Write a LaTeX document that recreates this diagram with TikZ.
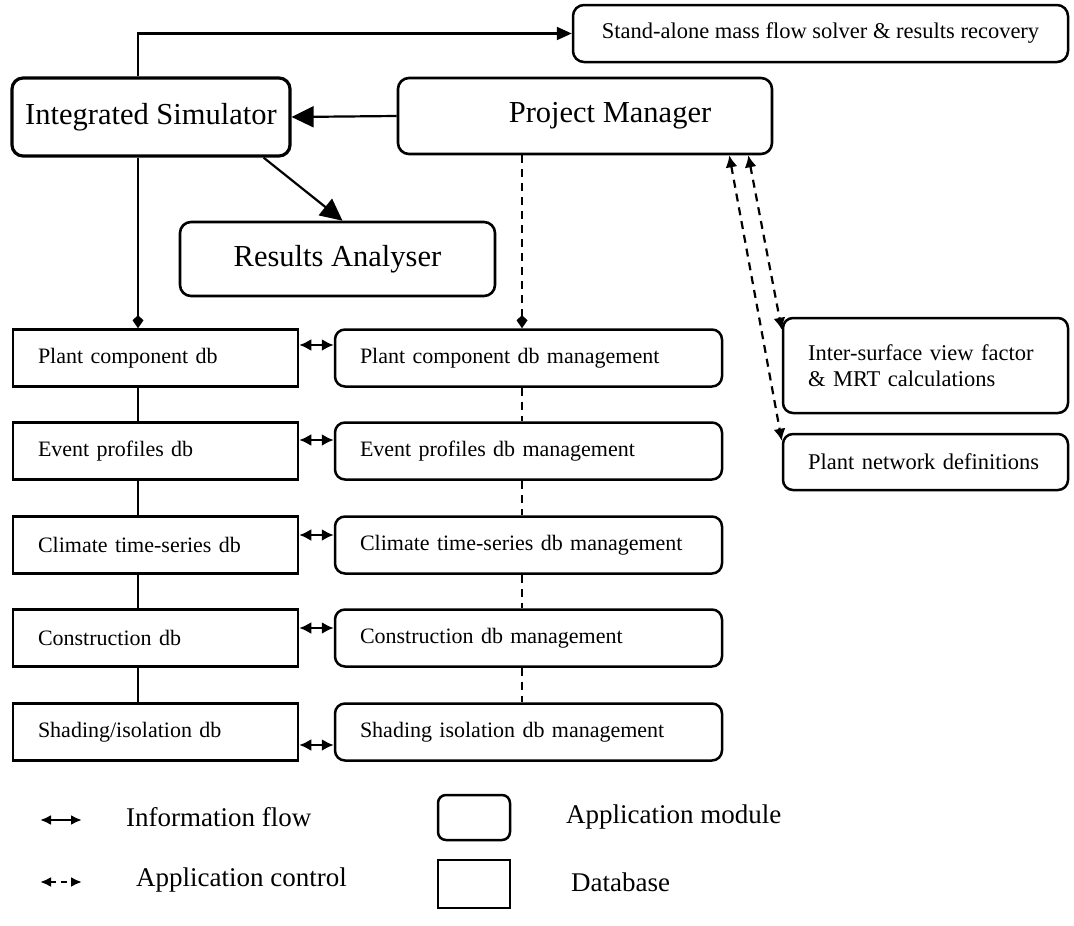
\documentclass[tikz,border=0pt]{standalone}
\usepackage{fontspec}
\setmainfont{Liberation Serif}
\usetikzlibrary{arrows.meta,calc}
\begin{document}
\begin{tikzpicture}[x=1pt,y=-1pt,
  line width=2.2pt,
  modbox/.style={draw,rounded corners=11pt,line width=2.5pt,inner sep=0pt,anchor=center},
  bigmod/.style={modbox,line width=3.2pt,font=\fontsize{30.5}{34}\selectfont},
  dbbox/.style={draw,line width=2.5pt,inner xsep=25pt,inner ysep=0pt,minimum height=57pt,align=left,font=\fontsize{22}{25}\selectfont},
  mgbox/.style={dbbox,rounded corners=10pt},
  lbl/.style={font=\fontsize{27}{31}\selectfont,anchor=west,inner sep=0pt},
  bighead/.style={-{Triangle[length=22pt,width=21pt]}},
  dbl/.style={{Latex[length=12pt,width=12pt]}-{Latex[length=12pt,width=12pt]}},
  ctl/.style={dash pattern=on 8pt off 6pt},
  kite/.style={-{Kite[length=13pt,width=11pt,inset=5pt]}}
]
\useasboundingbox (0,0) rectangle (1074,926);

% top modules
\node[modbox,minimum width=495pt,minimum height=57pt,font=\fontsize{22.5}{26}\selectfont] (sa) at (820.5,33.5) {Stand-alone mass flow solver \& results recovery};
\node[bigmod,minimum width=278pt,minimum height=78pt] (is) at (151,117) {Integrated Simulator};
\node[bigmod,line width=2.6pt,minimum width=374pt,minimum height=76pt] (pm) at (585,116) {\hspace*{50pt}Project Manager};
\node[bigmod,line width=2.6pt,minimum width=315pt,minimum height=74pt] (ra) at (337.5,259) {Results Analyser};

% database column
\node[dbbox,text width=235pt] (pc) at (155.5,358) {Plant component db};
\node[dbbox,text width=235pt] (ep) at (155.5,451) {Event profiles db};
\node[dbbox,text width=235pt] (cl) at (155.5,545) {Climate time-series db};
\node[dbbox,text width=235pt] (co) at (155.5,638) {Construction db};
\node[dbbox,text width=235pt] (sh) at (155.5,732) {Shading/isolation db};

% management column
\node[mgbox,text width=337pt] (pcm) at (528.5,358) {Plant component db management};
\node[mgbox,text width=337pt] (epm) at (528.5,451) {Event profiles db management};
\node[mgbox,text width=337pt] (clm) at (528.5,545) {Climate time-series db management};
\node[mgbox,text width=337pt] (com) at (528.5,638) {Construction db management};
\node[mgbox,text width=337pt] (shm) at (528.5,732) {Shading isolation db management};

% right modules
\node[mgbox,text width=235pt,minimum height=95pt,font=\fontsize{22.5}{26}\selectfont] (vf) at (925.5,365.5) {Inter-surface view factor\\\& MRT calculations};
\node[mgbox,text width=235pt,minimum height=56pt,font=\fontsize{22.5}{26}\selectfont] (pn) at (925.5,462) {Plant network definitions};

% helper coordinates for vertical runs
\coordinate (vx) at (138,0);
\coordinate (mx) at (522,0);

% connectors
\draw[-{Triangle[length=15pt,width=13pt]}] (is.north -| vx) |- (sa.west);
\draw[bighead] (pm.west) -- (is.east);
\draw[bighead] ([xshift=-28pt]is.south east) -- ([xshift=5pt]ra.north);
\draw[kite] (is.south -| vx) -- (pc.north -| vx);
\draw (pc.south -| vx) -- (ep.north -| vx);
\draw (ep.south -| vx) -- (cl.north -| vx);
\draw (cl.south -| vx) -- (co.north -| vx);
\draw (co.south -| vx) -- (sh.north -| vx);

\draw[kite,ctl] (pm.south -| mx) -- (pcm.north -| mx);
\draw[ctl] (pcm.south -| mx) -- (epm.north -| mx);
\draw[ctl] (epm.south -| mx) -- (clm.north -| mx);
\draw[ctl] (clm.south -| mx) -- (com.north -| mx);
\draw[ctl] (com.south -| mx) -- (shm.north -| mx);

\draw[dbl] ([yshift=13pt]pc.east) -- ([yshift=13pt]pcm.west);
\draw[dbl] ([yshift=11pt]ep.east) -- ([yshift=11pt]epm.west);
\draw[dbl] ([yshift=10pt]cl.east) -- ([yshift=10pt]clm.west);
\draw[dbl] ([yshift=10pt]co.east) -- ([yshift=10pt]com.west);
\draw[dbl] ([yshift=-13pt]sh.east) -- ([yshift=-13pt]shm.west);

\draw[dbl,ctl] ([xshift=-25pt]pm.south east) -- ([yshift=-13pt]vf.north west);
\draw[dbl,ctl] ([xshift=-44pt]pm.south east) -- ([yshift=-8pt]pn.north west);

% legend
\coordinate (la1) at (40,820);
\coordinate (la2) at (82,820);
\coordinate (lb1) at (40,882);
\coordinate (lb2) at (82,882);
\draw[{Latex[length=11pt,width=10pt]}-{Latex[length=11pt,width=10pt]}] (la1) -- (la2);
\draw[{Latex[length=11pt,width=10pt]}-{Latex[length=11pt,width=10pt]},dash pattern=on 6pt off 5pt] (lb1) -- (lb2);
\node[lbl] (t1) at (125,817) {Information flow};
\node[lbl] (t2) at (135,880) {Application control};
\node[modbox,rounded corners=8pt,minimum width=72pt,minimum height=45pt] (lm) at (474,817.5) {};
\node[draw,line width=2.5pt,minimum width=72pt,minimum height=48pt] (ld) at (474,884) {};
\node[lbl] (t3) at (565,817) {Application module};
\node[lbl] (t4) at (570,882) {Database};
\end{tikzpicture}
\end{document}
